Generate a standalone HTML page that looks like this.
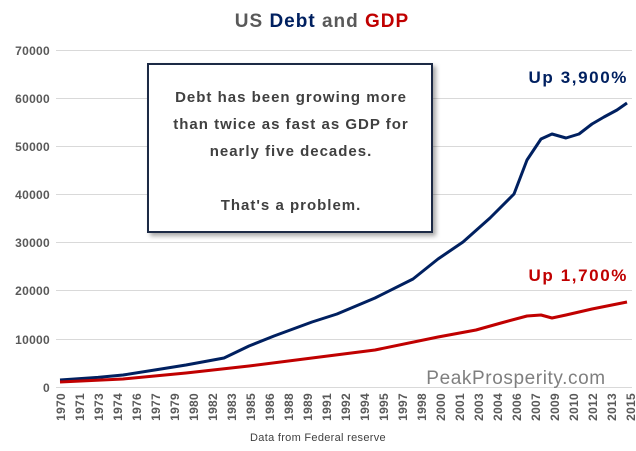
<!DOCTYPE html>
<html><head><meta charset="utf-8"><style>
body{margin:0;background:#fff;}
svg text{font-family:"Liberation Sans",sans-serif;}
</style></head><body>
<svg width="636" height="446" viewBox="0 0 636 446">
<defs><filter id="sh" x="-10%" y="-10%" width="130%" height="130%"><feDropShadow dx="3" dy="3" stdDeviation="2.5" flood-color="#000" flood-opacity="0.35"/></filter></defs>
<rect width="636" height="446" fill="#fff"/>
<g stroke="#d9d9d9" stroke-width="1">
<line x1="56" x2="632" y1="50.5" y2="50.5"/><line x1="56" x2="632" y1="98.5" y2="98.5"/>
<line x1="56" x2="632" y1="146.5" y2="146.5"/><line x1="56" x2="632" y1="194.5" y2="194.5"/>
<line x1="56" x2="632" y1="242.5" y2="242.5"/><line x1="56" x2="632" y1="290.5" y2="290.5"/>
<line x1="56" x2="632" y1="339.5" y2="339.5"/><line x1="56" x2="632" y1="387.5" y2="387.5"/>
</g>
<g font-size="12" font-weight="bold" fill="#595959" text-anchor="end" letter-spacing="0.3">
<text x="50" y="55">70000</text><text x="50" y="103">60000</text><text x="50" y="151">50000</text>
<text x="50" y="199">40000</text><text x="50" y="247">30000</text><text x="50" y="295">20000</text>
<text x="50" y="344">10000</text><text x="50" y="392">0</text>
</g>
<text x="322" y="27" font-size="19" font-weight="bold" text-anchor="middle" fill="#595959" letter-spacing="1">US <tspan fill="#002060">Debt</tspan> and <tspan fill="#c00000">GDP</tspan></text>
<polyline fill="none" stroke="#002060" stroke-width="3" stroke-linejoin="round" points="60,380 98,377.4 123,375 161,369 186,365 224,358 249,346 274,336 312,322 337,314 375,298 413,279 438,259 463,242 490,218 514,194 527,160 541,139 552,134 566,138 579,134 592,124 604,117 617,110 627,103"/>
<polyline fill="none" stroke="#c00000" stroke-width="3" stroke-linejoin="round" points="60,382 123,379 186,373 249,366 312,358 375,350 438,337 476,330 501,323 527,316 541,315 552,318 566,315 592,309 627,302"/>
<rect x="148" y="64" width="284" height="168" fill="#fff" stroke="#1f2a44" stroke-width="2" filter="url(#sh)"/>
<g font-size="15" font-weight="bold" fill="#404040" text-anchor="middle" letter-spacing="1">
<text x="291" y="102">Debt has been growing more</text>
<text x="291" y="129">than twice as fast as GDP for</text>
<text x="291" y="156">nearly five decades.</text>
<text x="291" y="210">That's a problem.</text>
</g>
<text x="628" y="83" font-size="17" font-weight="bold" fill="#002060" text-anchor="end" letter-spacing="1.6">Up 3,900%</text>
<text x="628" y="281" font-size="17" font-weight="bold" fill="#c00000" text-anchor="end" letter-spacing="1.6">Up 1,700%</text>
<text x="516" y="384" font-size="19" fill="#7f7f7f" text-anchor="middle" letter-spacing="0.6">PeakProsperity.com</text>
<text x="318" y="441" font-size="11" fill="#404040" text-anchor="middle" letter-spacing="0.3">Data from Federal reserve</text>
<g font-size="12" font-weight="bold" fill="#595959" text-anchor="end" letter-spacing="0.3">
<text transform="translate(65,393) rotate(-90)">1970</text>
<text transform="translate(84,393) rotate(-90)">1971</text>
<text transform="translate(103,393) rotate(-90)">1973</text>
<text transform="translate(122,393) rotate(-90)">1974</text>
<text transform="translate(141,393) rotate(-90)">1976</text>
<text transform="translate(160,393) rotate(-90)">1977</text>
<text transform="translate(179,393) rotate(-90)">1979</text>
<text transform="translate(198,393) rotate(-90)">1980</text>
<text transform="translate(217,393) rotate(-90)">1982</text>
<text transform="translate(236,393) rotate(-90)">1983</text>
<text transform="translate(255,393) rotate(-90)">1985</text>
<text transform="translate(274,393) rotate(-90)">1986</text>
<text transform="translate(293,393) rotate(-90)">1988</text>
<text transform="translate(312,393) rotate(-90)">1989</text>
<text transform="translate(331,393) rotate(-90)">1991</text>
<text transform="translate(350,393) rotate(-90)">1992</text>
<text transform="translate(369,393) rotate(-90)">1994</text>
<text transform="translate(388,393) rotate(-90)">1995</text>
<text transform="translate(407,393) rotate(-90)">1997</text>
<text transform="translate(426,393) rotate(-90)">1998</text>
<text transform="translate(445,393) rotate(-90)">2000</text>
<text transform="translate(464,393) rotate(-90)">2001</text>
<text transform="translate(483,393) rotate(-90)">2003</text>
<text transform="translate(502,393) rotate(-90)">2004</text>
<text transform="translate(521,393) rotate(-90)">2006</text>
<text transform="translate(540,393) rotate(-90)">2007</text>
<text transform="translate(559,393) rotate(-90)">2009</text>
<text transform="translate(578,393) rotate(-90)">2010</text>
<text transform="translate(597,393) rotate(-90)">2012</text>
<text transform="translate(616,393) rotate(-90)">2013</text>
<text transform="translate(635,393) rotate(-90)">2015</text>
</g>
</svg>
</body></html>
